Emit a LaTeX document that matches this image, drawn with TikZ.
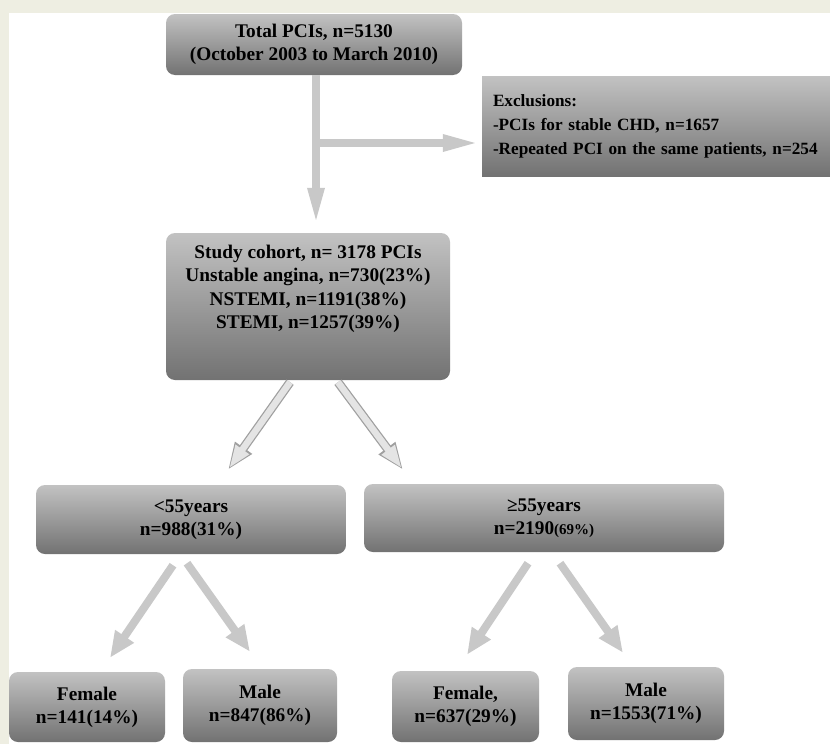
\documentclass[tikz,border=0pt]{standalone}
\usepackage{fontspec}
\setmainfont{Liberation Serif}
\usepackage{xcolor}
\usepackage{tikz}
\usetikzlibrary{arrows.meta}

\definecolor{rahmen}{RGB}{238,238,226}
\definecolor{kastenoben}{RGB}{194,194,194}
\definecolor{kastenunten}{RGB}{114,114,114}
\definecolor{pfeilgrau}{RGB}{200,200,200}
\definecolor{pfeilrand}{RGB}{160,160,160}
\definecolor{pfeilinnen}{RGB}{228,228,228}

\tikzset{
	kasten/.style={
		rounded corners=9pt,
		top color=kastenoben,
		bottom color=kastenunten,
		draw=none,
		align=center,
		inner sep=0pt,
		font=\fontsize{19.3}{23}\selectfont\bfseries
	},
	pfeil/.style={
		line width=8pt,
		color=pfeilgrau,
		-{Triangle[width=15pt,length=38pt]}
	},
	pfeilschraeg/.style={
		line width=8pt,
		color=pfeilgrau,
		-{Triangle[width=21pt,length=26pt]}
	},
	pfeilhell/.style={
		line width=9pt,
		color=pfeilrand,
		-{Triangle[width=19pt,length=27pt]}
	},
	pfeilhellinnen/.style={
		line width=6.5pt,
		color=pfeilinnen,
		shorten >=2pt,
		-{Triangle[width=15pt,length=23pt]}
	}
}

\begin{document}
\begin{tikzpicture}[x=1pt, y=-1pt]
	\useasboundingbox (0,0) rectangle (830,744);
	\clip (0,0) rectangle (830,744);
	% Rahmen
	\fill[
		rahmen
	] (0,0) rectangle (830,744);
	\fill[
		white
	] (9,13) rectangle (830,744);
	% Gesamt
	\node[
		kasten,
		minimum width=296pt,
		minimum height=61pt
	] (total) at (314,44.5) {Total PCIs, n=5130\\(October 2003 to March 2010)};
	% Ausschluesse
	\node[
		kasten,
		rounded corners=0pt,
		minimum width=352pt,
		minimum height=100pt,
		text width=330pt,
		align=left,
		font=\fontsize{17.2}{24}\selectfont\bfseries
	] (excl) at (658,126) {Exclusions:\\-PCIs for stable CHD, n=1657\\-Repeated PCI on the same patients, n=254};
	% Kohorte
	\node[
		kasten,
		minimum width=284pt,
		minimum height=147pt
	] (study) at (308,306.5) {};
	\node[
		align=center,
		inner sep=0pt,
		font=\fontsize{19.3}{23.5}\selectfont\bfseries
	] (studytext) at (308,289) {Study cohort, n= 3178 PCIs\\Unstable angina, n=730(23\%)\\NSTEMI, n=1191(38\%)\\STEMI, n=1257(39\%)};
	% Altersgruppen
	\node[
		kasten,
		minimum width=310pt,
		minimum height=69pt
	] (jung) at (191,519.5) {<55years\\n=988(31\%)};
	\node[
		kasten,
		minimum width=360pt,
		minimum height=68pt
	] (alt) at (544,518) {≥55years\\n=2190{\fontsize{15}{15}\selectfont(69\%)}};
	% Geschlecht
	\node[
		kasten,
		minimum width=156pt,
		minimum height=70pt
	] (fjung) at (87,707) {Female\\n=141(14\%)};
	\node[
		kasten,
		minimum width=154pt,
		minimum height=73pt
	] (mjung) at (260,705.5) {Male\\n=847(86\%)};
	\node[
		kasten,
		minimum width=147pt,
		minimum height=71pt
	] (falt) at (465.5,706.5) {Female,\\n=637(29\%)};
	\node[
		kasten,
		minimum width=156pt,
		minimum height=73pt
	] (malt) at (646,703.5) {Male\\n=1553(71\%)};
	% Pfeile oben
	\coordinate (abzweig) at ([xshift=2pt]total.south |- 0,143);
	\draw[
		pfeil,
		shorten >=7pt
	] ([xshift=2pt]total.south) -- ([xshift=2pt]total.south |- study.north);
	\draw[
		pfeil,
		shorten >=1pt
	] (abzweig) -- (abzweig -| excl.west);
	% Pfeile Kohorte
	\draw[
		pfeilhell
	] ([xshift=-18pt,yshift=-2pt]study.south) -- ([xshift=37pt,yshift=15pt]jung.north);
	\draw[
		pfeilhellinnen
	] ([xshift=-18pt,yshift=-2pt]study.south) -- ([xshift=37pt,yshift=15pt]jung.north);
	\draw[
		pfeilhell
	] ([xshift=30pt,yshift=-2pt]study.south) -- ([xshift=-141pt,yshift=14pt]alt.north);
	\draw[
		pfeilhellinnen
	] ([xshift=30pt,yshift=-2pt]study.south) -- ([xshift=-141pt,yshift=14pt]alt.north);
	% Pfeile Geschlecht
	\draw[
		pfeilschraeg
	] ([xshift=-18pt,yshift=-11pt]jung.south) -- ([xshift=23pt,yshift=14pt]fjung.north);
	\draw[
		pfeilschraeg
	] ([xshift=-4pt,yshift=-9pt]jung.south) -- ([xshift=-10pt,yshift=17pt]mjung.north);
	\draw[
		pfeilschraeg
	] ([xshift=-16pt,yshift=-11pt]alt.south) -- ([xshift=1.5pt,yshift=16pt]falt.north);
	\draw[
		pfeilschraeg
	] ([xshift=16pt,yshift=-11pt]alt.south) -- ([xshift=-23pt,yshift=14pt]malt.north);
\end{tikzpicture}
\end{document}
